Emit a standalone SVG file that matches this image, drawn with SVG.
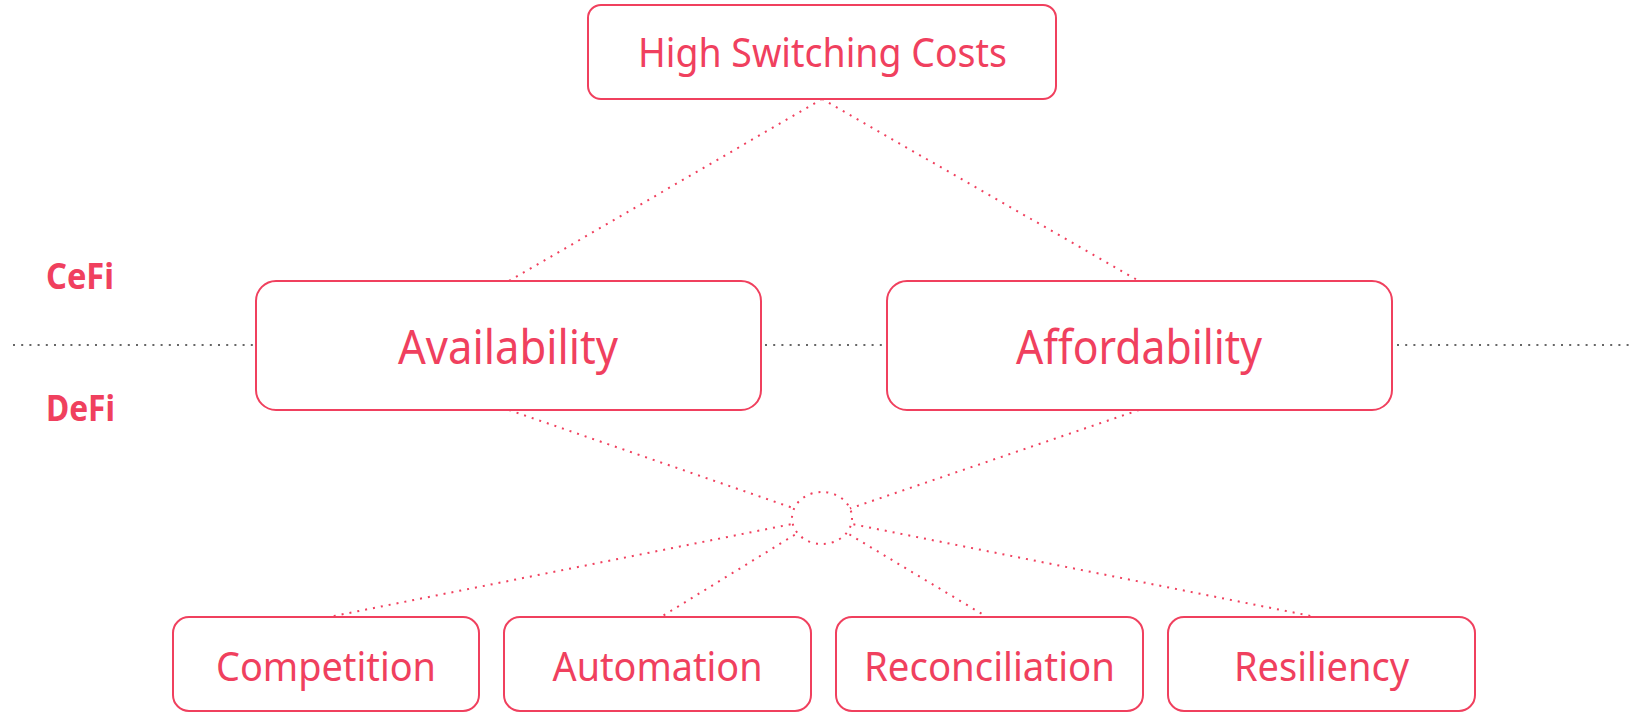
<svg xmlns="http://www.w3.org/2000/svg" width="1640" height="713" viewBox="0 0 1640 713">
<style>
.box{fill:#fff;stroke:#F0405E;stroke-width:2}
.lbl{fill:#F0405E;font-family:"Noto Sans","Open Sans",sans-serif;text-anchor:middle}
.side{fill:#F0405E;font-family:"Noto Sans","Open Sans",sans-serif;font-weight:bold;font-size:36px}
.conn{stroke:#F0405E;stroke-width:2;stroke-dasharray:2 6;fill:none}
.axis{stroke:#666;stroke-width:2;stroke-dasharray:2 6.2;fill:none}
</style>
<rect width="1640" height="713" fill="#fff"/>
<g id="axis">
<line class="axis" x1="13" y1="345" x2="256" y2="345"/>
<line class="axis" x1="765" y1="345" x2="887" y2="345"/>
<line class="axis" x1="1397" y1="345" x2="1634" y2="345"/>
</g>
<g id="connectors">
<line class="conn" x1="822" y1="99" x2="509" y2="281"/>
<line class="conn" x1="822" y1="99" x2="1139" y2="281"/>
<line class="conn" x1="509" y1="410" x2="822" y2="518"/>
<line class="conn" x1="1139" y1="410" x2="822" y2="518"/>
<line class="conn" x1="822" y1="518" x2="329" y2="617"/>
<line class="conn" x1="822" y1="518" x2="661" y2="617"/>
<line class="conn" x1="822" y1="518" x2="987" y2="617"/>
<line class="conn" x1="822" y1="518" x2="1316" y2="617"/>
<ellipse id="hub" cx="822" cy="518" rx="30" ry="26" fill="#fff" stroke="#F0405E" stroke-width="2" stroke-dasharray="2 6"/>
</g>
<g id="cefi"><text class="side" x="46" y="289" textLength="68" lengthAdjust="spacingAndGlyphs">CeFi</text></g>
<g id="defi"><text class="side" x="46" y="421" textLength="69" lengthAdjust="spacingAndGlyphs">DeFi</text></g>
<g id="high-switching-costs">
<rect class="box" x="588" y="5" width="468" height="94" rx="13"/>
<text class="lbl" x="822.5" y="67" font-size="40" textLength="369" lengthAdjust="spacingAndGlyphs">High Switching Costs</text>
</g>
<g id="availability">
<rect class="box" x="256" y="281" width="505" height="129" rx="20"/>
<text class="lbl" x="508" y="364" font-size="47" textLength="220" lengthAdjust="spacingAndGlyphs">Availability</text>
</g>
<g id="affordability">
<rect class="box" x="887" y="281" width="505" height="129" rx="20"/>
<text class="lbl" x="1139" y="364" font-size="47" textLength="246" lengthAdjust="spacingAndGlyphs">Affordability</text>
</g>
<g id="competition">
<rect class="box" x="173" y="617" width="306" height="94" rx="16"/>
<text class="lbl" x="326" y="681" font-size="40" textLength="220" lengthAdjust="spacingAndGlyphs">Competition</text>
</g>
<g id="automation">
<rect class="box" x="504" y="617" width="307" height="94" rx="16"/>
<text class="lbl" x="657.5" y="681" font-size="40" textLength="210" lengthAdjust="spacingAndGlyphs">Automation</text>
</g>
<g id="reconciliation">
<rect class="box" x="836" y="617" width="307" height="94" rx="16"/>
<text class="lbl" x="989.5" y="681" font-size="40" textLength="251" lengthAdjust="spacingAndGlyphs">Reconciliation</text>
</g>
<g id="resiliency">
<rect class="box" x="1168" y="617" width="307" height="94" rx="16"/>
<text class="lbl" x="1321.5" y="681" font-size="40" textLength="175" lengthAdjust="spacingAndGlyphs">Resiliency</text>
</g>
</svg>
